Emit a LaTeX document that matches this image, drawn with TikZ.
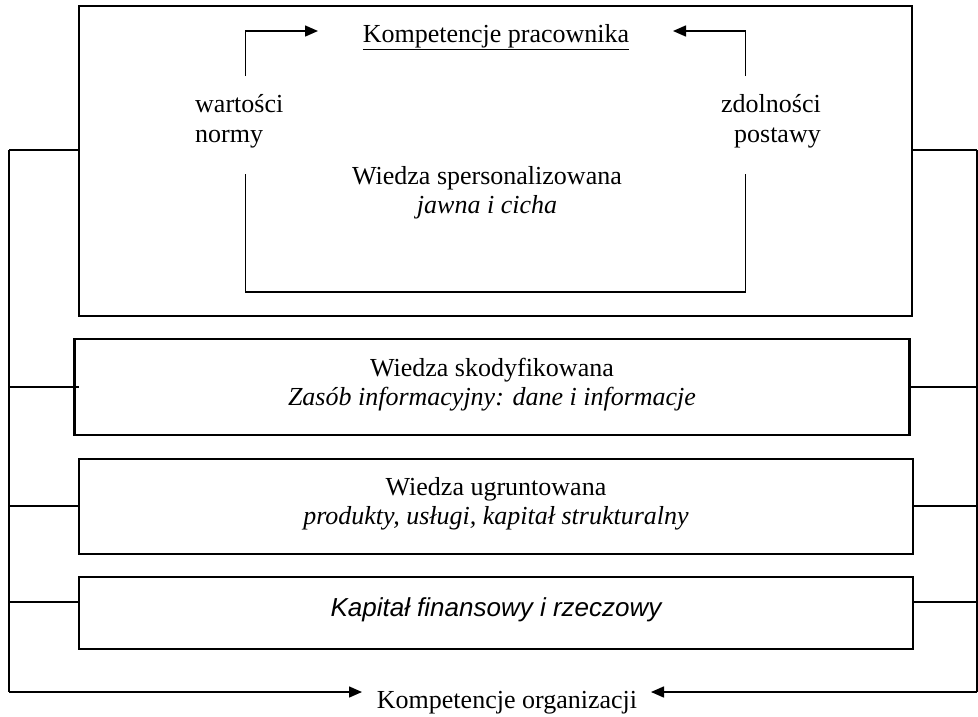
\documentclass[tikz,border=0pt]{standalone}
\usepackage{fontspec}
\setmainfont{Liberation Serif}
\newfontfamily\arialfont{Liberation Sans}
\usetikzlibrary{arrows.meta}
\tikzset{
  box/.style={draw, line width=2.6pt, rectangle, inner sep=0pt},
  conn/.style={line width=1.5pt},
  arr/.style={line width=1.5pt, -{Triangle[length=13pt,width=11pt]}},
  txt/.style={inner sep=0pt, font=\fontsize{26}{29}\selectfont, align=center},
  side/.style={inner sep=0pt, font=\fontsize{26}{30}\selectfont},
}
\begin{document}
\begin{tikzpicture}[x=1pt,y=-1pt]
\useasboundingbox (0,0) rectangle (978,716);
% boxes
\node[box, minimum width=833pt, minimum height=310pt] (top) at (495.5,161) {};
\node[box, minimum width=835pt, minimum height=96pt] (b2) at (492,387) {};
\node[box, minimum width=834pt, minimum height=95pt] (b3) at (496,506.5) {};
\node[box, minimum width=834pt, minimum height=72pt] (b4) at (496,613) {};
% texts
\node[txt] (kp) at (496,37) {\underline{Kompetencje pracownika}};
\node[side, align=left, anchor=west] (wn) at (195,121) {wartości\\normy};
\node[side, align=right, anchor=east] (zp) at (821,121) {zdolności\\postawy};
\node[txt] (ws) at (487,193) {Wiedza spersonalizowana\\\textit{jawna i cicha}};
\node[txt] (wsk) at (492,385) {Wiedza skodyfikowana\\\textit{Zasób informacyjny: dane i informacje}};
\node[txt] (wug) at (496,504) {Wiedza ugruntowana\\\textit{produkty, usługi, kapitał strukturalny}};
\node[txt, font=\arialfont\itshape\fontsize{26}{30}\selectfont] (kf) at (496,610) {Kapitał finansowy i rzeczowy};
\node[txt] (ko) at (507,703) {Kompetencje organizacji};
% inner loop
\coordinate (lu) at (245.5,76);
\coordinate (lc) at (245.5,31);
\coordinate (lt) at (318,31);
\coordinate (ru) at (745.5,76);
\coordinate (rc) at (745.5,31);
\coordinate (rt) at (673,31);
\draw[arr] (lu) -- (lc) -- (lt);
\draw[arr] (ru) -- (rc) -- (rt);
\coordinate (ll) at (245.5,174);
\coordinate (rl) at (745.5,174);
\draw[conn] (ll) -- (245.5,292) -- (745.5,292) -- (rl);
% outer frame
\coordinate (L0) at (9,150);
\coordinate (L1) at (9,692);
\coordinate (R0) at (977,150);
\coordinate (R1) at (977,692);
\coordinate (LA) at (362,692);
\coordinate (RA) at (651,692);
\draw[conn] (top.west |- L0) -- (L0);
\draw[conn] (top.east |- R0) -- (R0);
\draw[conn] (L0) -- (L1);
\draw[conn] (R0) -- (R1);
\draw[arr] (L1) -- (LA);
\draw[arr] (R1) -- (RA);
\draw[conn] (9,387) -- ([xshift=6pt]b2.west);
\draw[conn] (b2.east |- 0,387) -- (977,387);
\draw[conn] (9,506) -- (b3.west |- 0,506);
\draw[conn] (b3.east |- 0,506) -- (977,506);
\draw[conn] (9,602) -- (b4.west |- 0,602);
\draw[conn] (b4.east |- 0,602) -- (977,602);
\end{tikzpicture}
\end{document}
